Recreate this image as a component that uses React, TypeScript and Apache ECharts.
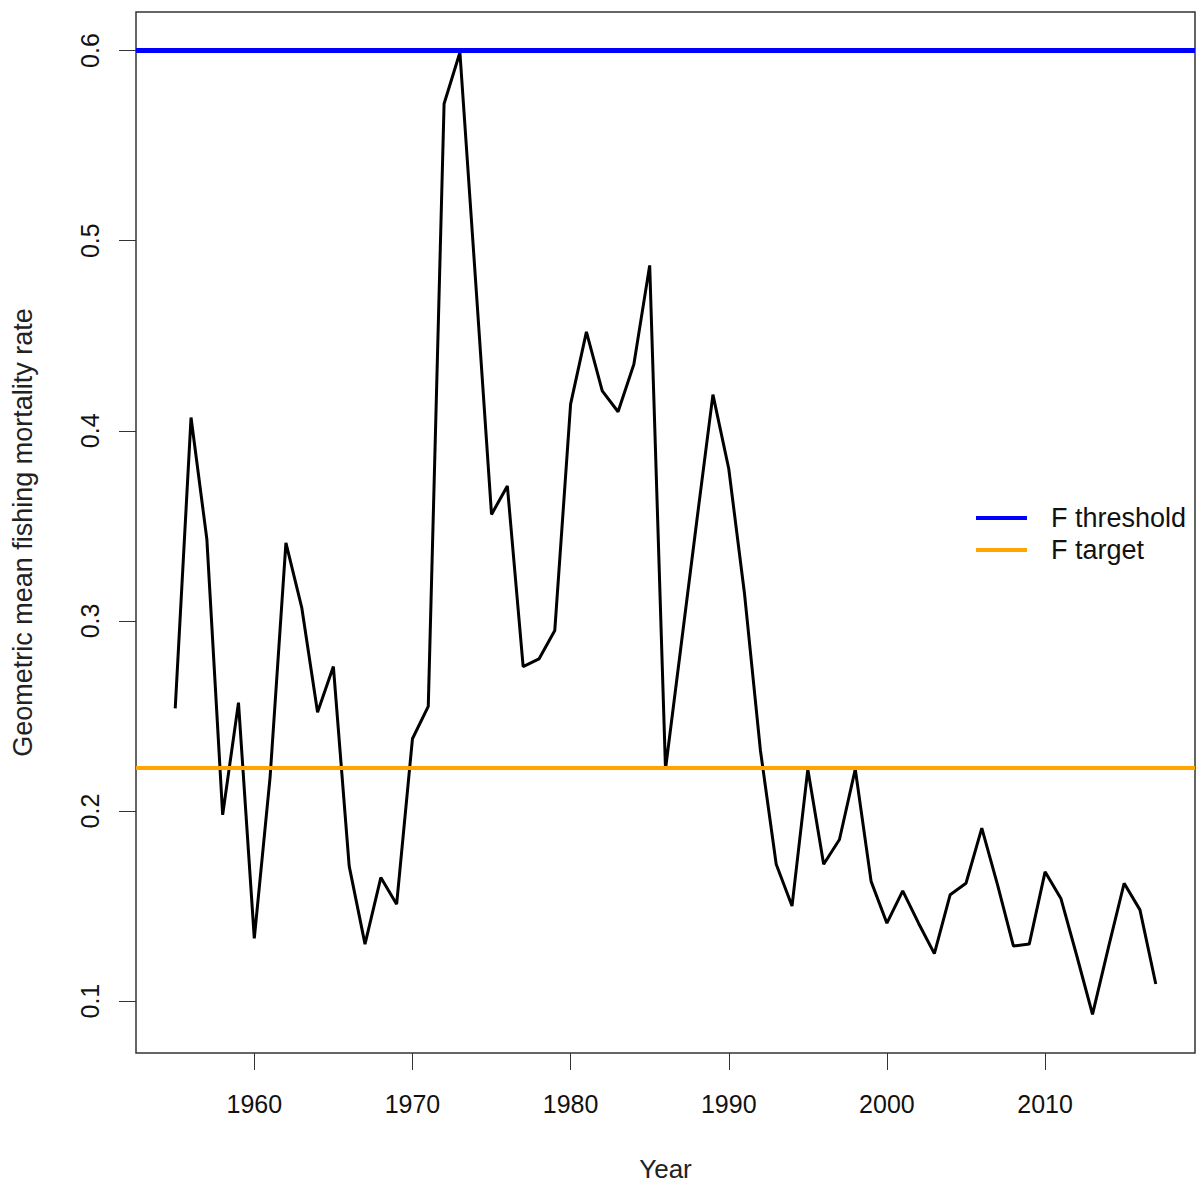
import React, { useEffect, useRef } from "react";
import * as echarts from "echarts";

const years = [
  1955, 1956, 1957, 1958, 1959, 1960, 1961, 1962, 1963, 1964, 1965, 1966, 1967, 1968, 1969,
  1970, 1971, 1972, 1973, 1974, 1975, 1976, 1977, 1978, 1979, 1980, 1981, 1982, 1983, 1984,
  1985, 1986, 1987, 1988, 1989, 1990, 1991, 1992, 1993, 1994, 1995, 1996, 1997, 1998, 1999,
  2000, 2001, 2002, 2003, 2004, 2005, 2006, 2007, 2008, 2009, 2010, 2011, 2012, 2013, 2014,
  2015, 2016, 2017,
];
const fValues = [
  0.254, 0.407, 0.343, 0.198, 0.257, 0.133, 0.218, 0.341, 0.307, 0.252, 0.276, 0.171, 0.13, 0.165, 0.151,
  0.238, 0.255, 0.572, 0.599, 0.478, 0.356, 0.371, 0.276, 0.28, 0.295, 0.414, 0.452, 0.421, 0.41, 0.435,
  0.487, 0.222, 0.288, 0.354, 0.419, 0.38, 0.314, 0.232, 0.172, 0.15, 0.222, 0.172, 0.185, 0.222, 0.163,
  0.141, 0.158, 0.141, 0.125, 0.156, 0.162, 0.191, 0.161, 0.129, 0.13, 0.168, 0.154, 0.124, 0.093, 0.128,
  0.162, 0.148, 0.109,
];
const fThreshold = [0.6];
const fTarget = [0.2226];
const xTicks = [1960, 1970, 1980, 1990, 2000, 2010];
const yTicks = [0.1, 0.2, 0.3, 0.4, 0.5, 0.6];
const legendNames = ["F threshold", "F target"];

const FONT = "'Liberation Sans', Arial, sans-serif";

export default function App() {
  const ref = useRef<HTMLDivElement>(null);
  useEffect(() => {
    if (!ref.current) return;
    const chart = echarts.init(ref.current, null, { renderer: "svg" });
    const xMin = years[0] - (years[years.length - 1] - years[0]) * 0.04;
    const xMax = years[years.length - 1] + (years[years.length - 1] - years[0]) * 0.04;
    const dMin = Math.min(...fValues, ...fThreshold, ...fTarget);
    const dMax = Math.max(...fValues, ...fThreshold, ...fTarget);
    const yMin = dMin - (dMax - dMin) * 0.04;
    const yMax = dMax + (dMax - dMin) * 0.04;
    chart.setOption({
      animation: false,
      backgroundColor: "#fff",
      grid: {
        left: 136,
        right: 3,
        top: 12,
        bottom: 134,
        show: true,
        borderColor: "#333",
        borderWidth: 1.5,
        backgroundColor: "transparent",
      },
      legend: {
        data: legendNames,
        orient: "vertical",
        left: 971,
        top: 497,
        itemWidth: 51,
        itemHeight: 4,
        itemGap: 0,
        icon: "rect",
        textStyle: {
          fontFamily: FONT,
          fontSize: 27,
          color: "#111",
          lineHeight: 32,
          padding: [0, 0, 0, 19],
        },
      },
      xAxis: {
        type: "value",
        min: xMin,
        max: xMax,
        name: "Year",
        nameLocation: "middle",
        nameGap: 103,
        nameTextStyle: { fontFamily: FONT, fontSize: 26, color: "#222" },
        axisLine: { show: false },
        axisTick: { show: true, length: 17, customValues: xTicks, lineStyle: { color: "#333", width: 1 } },
        axisLabel: {
          customValues: xTicks,
          fontFamily: FONT,
          fontSize: 25,
          color: "#111",
          margin: 38,
          formatter: (v: number) => String(Math.round(v)),
        },
        splitLine: { show: false },
      },
      yAxis: {
        type: "value",
        min: yMin,
        max: yMax,
        name: "Geometric mean fishing mortality rate",
        nameLocation: "middle",
        nameGap: 100,
        nameTextStyle: { fontFamily: FONT, fontSize: 27, color: "#222" },
        axisLine: { show: false },
        axisTick: { show: true, length: 17, customValues: yTicks, lineStyle: { color: "#333", width: 1 } },
        axisLabel: {
          customValues: yTicks,
          rotate: 90,
          fontFamily: FONT,
          fontSize: 25,
          color: "#111",
          margin: 34,
          formatter: (v: number) => v.toFixed(1),
        },
        splitLine: { show: false },
      },
      series: [
        {
          name: "F",
          type: "line",
          data: years.map((y, i) => [y, fValues[i]]),
          symbol: "none",
          lineStyle: { color: "#000", width: 3 },
          itemStyle: { color: "#000" },
          z: 3,
        },
        {
          name: legendNames[0],
          type: "line",
          data: [],
          symbol: "none",
          itemStyle: { color: "#0000ff" },
          lineStyle: { color: "#0000ff", width: 5 },
          markLine: {
            silent: true,
            precision: 4,
            symbol: ["none", "none"],
            label: { show: false },
            lineStyle: { color: "#0000ff", width: 5, type: "solid" },
            data: fThreshold.map((v) => ({ yAxis: v })),
          },
          z: 2,
        },
        {
          name: legendNames[1],
          type: "line",
          data: [],
          symbol: "none",
          itemStyle: { color: "#ffa500" },
          lineStyle: { color: "#ffa500", width: 4 },
          markLine: {
            silent: true,
            precision: 4,
            symbol: ["none", "none"],
            label: { show: false },
            lineStyle: { color: "#ffa500", width: 4, type: "solid" },
            data: fTarget.map((v) => ({ yAxis: v })),
          },
          z: 2,
        },
      ],
    });
    return () => chart.dispose();
  }, []);
  return (
    <div
      ref={ref}
      style={{ position: "absolute", left: 0, top: 0, width: 1198, height: 1187 }}
    />
  );
}
